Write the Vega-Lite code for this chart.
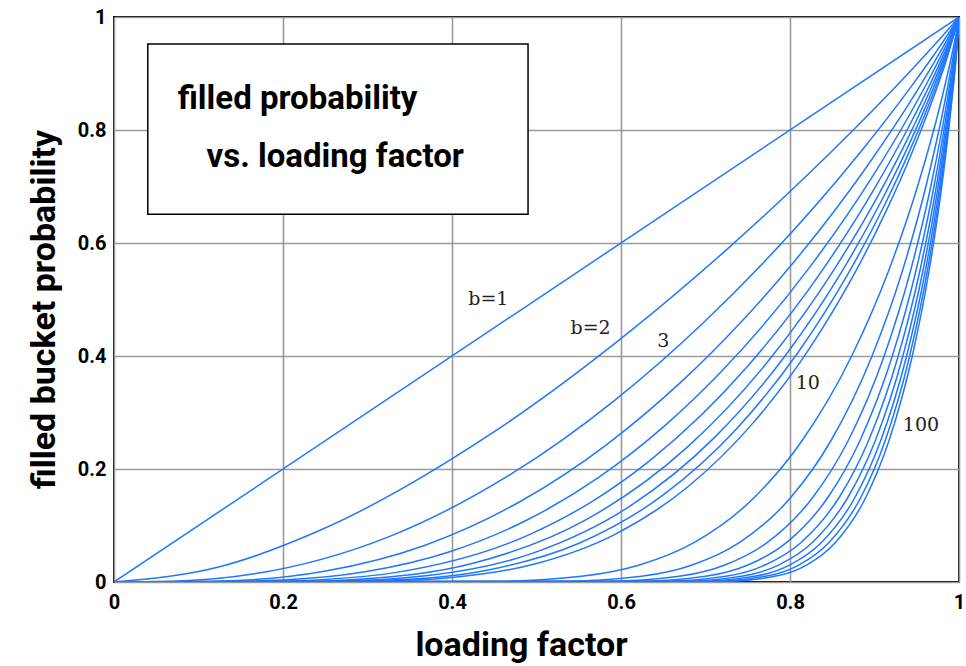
{
  "$schema": "https://vega.github.io/schema/vega-lite/v6.json",
  "width": 845,
  "height": 565,
  "autosize": {"type": "none"},
  "padding": {"left": 114, "top": 17, "right": 7, "bottom": 84},
  "background": "white",
  "config": {
    "view": {"stroke": "black", "strokeWidth": 2},
    "axis": {
      "grid": true,
      "gridColor": "#9a9a9a",
      "gridWidth": 1.6,
      "ticks": false,
      "domain": false,
      "labelFlush": false,
      "labelFont": "Roboto, sans-serif",
      "labelFontWeight": "bold",
      "labelFontSize": 20,
      "labelColor": "black",
      "titleFont": "Roboto, sans-serif",
      "titleFontWeight": "bold",
      "titleFontSize": 34,
      "titleColor": "black"
    }
  },
  "datasets": {
    "curves": [
      {"b":1,"x":0,"y":0},{"b":1,"x":1,"y":1},
      {"b":2,"x":0,"y":0},{"b":2,"x":0.1238,"y":0.0265},{"b":2,"x":0.2418,"y":0.0902},{"b":2,"x":0.4482,"y":0.2642},{"b":2,"x":0.6095,"y":0.4422},{"b":2,"x":0.7293,"y":0.594},{"b":2,"x":0.8153,"y":0.7127},{"b":2,"x":0.8755,"y":0.8009},{"b":2,"x":0.9451,"y":0.9084},{"b":2,"x":0.9764,"y":0.9596},{"b":2,"x":0.9901,"y":0.9827},{"b":2,"x":1,"y":1},
      {"b":3,"x":0,"y":0},{"b":3,"x":0.0833,"y":0.0022},{"b":3,"x":0.166,"y":0.0144},{"b":3,"x":0.3256,"y":0.0803},{"b":3,"x":0.4701,"y":0.1912},{"b":3,"x":0.594,"y":0.3233},{"b":3,"x":0.6956,"y":0.4562},{"b":3,"x":0.776,"y":0.5768},{"b":3,"x":0.884,"y":0.7619},{"b":3,"x":0.9427,"y":0.8754},{"b":3,"x":0.9727,"y":0.938},{"b":3,"x":0.9874,"y":0.9704},{"b":3,"x":1,"y":1},
      {"b":4,"x":0,"y":0},{"b":4,"x":0.125,"y":0.0018},{"b":4,"x":0.2489,"y":0.019},{"b":4,"x":0.369,"y":0.0656},{"b":4,"x":0.4812,"y":0.1429},{"b":4,"x":0.5823,"y":0.2424},{"b":4,"x":0.6702,"y":0.3528},{"b":4,"x":0.7441,"y":0.4634},{"b":4,"x":0.8046,"y":0.5665},{"b":4,"x":0.8908,"y":0.735},{"b":4,"x":0.9418,"y":0.8488},{"b":4,"x":0.9701,"y":0.9182},{"b":4,"x":0.9851,"y":0.9576},{"b":4,"x":1,"y":1},
      {"b":5,"x":0,"y":0},{"b":5,"x":0.1,"y":0.0002},{"b":5,"x":0.1999,"y":0.0037},{"b":5,"x":0.2989,"y":0.0186},{"b":5,"x":0.3955,"y":0.0527},{"b":5,"x":0.4876,"y":0.1088},{"b":5,"x":0.5731,"y":0.1847},{"b":5,"x":0.6502,"y":0.2746},{"b":5,"x":0.7179,"y":0.3712},{"b":5,"x":0.8245,"y":0.5595},{"b":5,"x":0.8964,"y":0.7149},{"b":5,"x":0.9415,"y":0.827},{"b":5,"x":0.9682,"y":0.9004},{"b":5,"x":0.9832,"y":0.945},{"b":5,"x":0.9914,"y":0.9708},{"b":5,"x":1,"y":1},
      {"b":6,"x":0,"y":0},{"b":6,"x":0.1667,"y":0.0006},{"b":6,"x":0.2498,"y":0.0045},{"b":6,"x":0.3323,"y":0.0166},{"b":6,"x":0.4916,"y":0.0839},{"b":6,"x":0.5656,"y":0.1424},{"b":6,"x":0.6341,"y":0.2149},{"b":6,"x":0.7511,"y":0.384},{"b":6,"x":0.8394,"y":0.5543},{"b":6,"x":0.9011,"y":0.6993},{"b":6,"x":0.9416,"y":0.8088},{"b":6,"x":0.9668,"y":0.8843},{"b":6,"x":0.9817,"y":0.9329},{"b":6,"x":0.9949,"y":0.9797},{"b":6,"x":1,"y":1},
      {"b":7,"x":0,"y":0},{"b":7,"x":0.2143,"y":0.0009},{"b":7,"x":0.2855,"y":0.0045},{"b":7,"x":0.4261,"y":0.0335},{"b":7,"x":0.5593,"y":0.1107},{"b":7,"x":0.6778,"y":0.2378},{"b":7,"x":0.7757,"y":0.3937},{"b":7,"x":0.851,"y":0.5503},{"b":7,"x":0.9052,"y":0.6866},{"b":7,"x":0.942,"y":0.7932},{"b":7,"x":0.9657,"y":0.8699},{"b":7,"x":0.9891,"y":0.9542},{"b":7,"x":1,"y":1},
      {"b":8,"x":0,"y":0},{"b":8,"x":0.25,"y":0.0011},{"b":8,"x":0.3743,"y":0.0119},{"b":8,"x":0.4958,"y":0.0511},{"b":8,"x":0.6097,"y":0.1334},{"b":8,"x":0.7108,"y":0.256},{"b":8,"x":0.7948,"y":0.4013},{"b":8,"x":0.8604,"y":0.547},{"b":8,"x":0.9087,"y":0.6761},{"b":8,"x":0.9425,"y":0.7798},{"b":8,"x":0.9649,"y":0.8568},{"b":8,"x":0.9792,"y":0.9105},{"b":8,"x":0.9963,"y":0.982},{"b":8,"x":1,"y":1},
      {"b":9,"x":0,"y":0},{"b":9,"x":0.2222,"y":0.0002},{"b":9,"x":0.3332,"y":0.0038},{"b":9,"x":0.4431,"y":0.0214},{"b":9,"x":0.5496,"y":0.0681},{"b":9,"x":0.6488,"y":0.1528},{"b":9,"x":0.7366,"y":0.2709},{"b":9,"x":0.8101,"y":0.4075},{"b":9,"x":0.8683,"y":0.5444},{"b":9,"x":0.9119,"y":0.6672},{"b":9,"x":0.943,"y":0.768},{"b":9,"x":0.9643,"y":0.845},{"b":9,"x":0.9926,"y":0.9626},{"b":9,"x":1,"y":1},
      {"b":10,"x":0,"y":0},{"b":10,"x":0.3,"y":0.0011},{"b":10,"x":0.3996,"y":0.0081},{"b":10,"x":0.4978,"y":0.0318},{"b":10,"x":0.5923,"y":0.0839},{"b":10,"x":0.6799,"y":0.1695},{"b":10,"x":0.7574,"y":0.2834},{"b":10,"x":0.8227,"y":0.4126},{"b":10,"x":0.8749,"y":0.5421},{"b":10,"x":0.9147,"y":0.6595},{"b":10,"x":0.9437,"y":0.7576},{"b":10,"x":0.9863,"y":0.9301},{"b":10,"x":1,"y":1},
      {"b":20,"x":0,"y":0},{"b":20,"x":0.4462,"y":0.001},{"b":20,"x":0.5531,"y":0.01},{"b":20,"x":0.6217,"y":0.03},{"b":20,"x":0.6868,"y":0.07},{"b":20,"x":0.758,"y":0.15},{"b":20,"x":0.8142,"y":0.25},{"b":20,"x":0.873,"y":0.4},{"b":20,"x":0.9165,"y":0.55},{"b":20,"x":0.9509,"y":0.7},{"b":20,"x":0.9787,"y":0.85},{"b":20,"x":0.9939,"y":0.95},{"b":20,"x":0.999,"y":0.99},{"b":20,"x":1,"y":1},
      {"b":30,"x":0,"y":0},{"b":30,"x":0.528,"y":0.001},{"b":30,"x":0.6241,"y":0.01},{"b":30,"x":0.6842,"y":0.03},{"b":30,"x":0.7404,"y":0.07},{"b":30,"x":0.8011,"y":0.15},{"b":30,"x":0.8484,"y":0.25},{"b":30,"x":0.8971,"y":0.4},{"b":30,"x":0.9329,"y":0.55},{"b":30,"x":0.9608,"y":0.7},{"b":30,"x":0.9832,"y":0.85},{"b":30,"x":0.9952,"y":0.95},{"b":30,"x":1,"y":1},
      {"b":40,"x":0,"y":0},{"b":40,"x":0.5808,"y":0.001},{"b":40,"x":0.6687,"y":0.01},{"b":40,"x":0.723,"y":0.03},{"b":40,"x":0.7733,"y":0.07},{"b":40,"x":0.8271,"y":0.15},{"b":40,"x":0.8688,"y":0.25},{"b":40,"x":0.9114,"y":0.4},{"b":40,"x":0.9425,"y":0.55},{"b":40,"x":0.9666,"y":0.7},{"b":40,"x":0.9857,"y":0.85},{"b":40,"x":0.996,"y":0.95},{"b":40,"x":1,"y":1},
      {"b":50,"x":0,"y":0},{"b":50,"x":0.6187,"y":0.001},{"b":50,"x":0.7002,"y":0.01},{"b":50,"x":0.7501,"y":0.03},{"b":50,"x":0.7961,"y":0.07},{"b":50,"x":0.845,"y":0.15},{"b":50,"x":0.8827,"y":0.25},{"b":50,"x":0.9211,"y":0.4},{"b":50,"x":0.9489,"y":0.55},{"b":50,"x":0.9704,"y":0.7},{"b":50,"x":0.9874,"y":0.85},{"b":50,"x":0.9965,"y":0.95},{"b":50,"x":1,"y":1},
      {"b":60,"x":0,"y":0},{"b":60,"x":0.6476,"y":0.001},{"b":60,"x":0.724,"y":0.01},{"b":60,"x":0.7704,"y":0.03},{"b":60,"x":0.8131,"y":0.07},{"b":60,"x":0.8583,"y":0.15},{"b":60,"x":0.8929,"y":0.25},{"b":60,"x":0.9281,"y":0.4},{"b":60,"x":0.9536,"y":0.55},{"b":60,"x":0.9732,"y":0.7},{"b":60,"x":0.9886,"y":0.85},{"b":60,"x":0.9968,"y":0.95},{"b":60,"x":1,"y":1},
      {"b":70,"x":0,"y":0},{"b":70,"x":0.6706,"y":0.001},{"b":70,"x":0.7427,"y":0.01},{"b":70,"x":0.7864,"y":0.03},{"b":70,"x":0.8264,"y":0.07},{"b":70,"x":0.8686,"y":0.15},{"b":70,"x":0.9009,"y":0.25},{"b":70,"x":0.9336,"y":0.4},{"b":70,"x":0.9572,"y":0.55},{"b":70,"x":0.9753,"y":0.7},{"b":70,"x":0.9896,"y":0.85},{"b":70,"x":0.9971,"y":0.95},{"b":70,"x":1,"y":1},
      {"b":80,"x":0,"y":0},{"b":80,"x":0.6895,"y":0.001},{"b":80,"x":0.7581,"y":0.01},{"b":80,"x":0.7994,"y":0.03},{"b":80,"x":0.8372,"y":0.07},{"b":80,"x":0.877,"y":0.15},{"b":80,"x":0.9073,"y":0.25},{"b":80,"x":0.938,"y":0.4},{"b":80,"x":0.9601,"y":0.55},{"b":80,"x":0.977,"y":0.7},{"b":80,"x":0.9903,"y":0.85},{"b":80,"x":0.9974,"y":0.95},{"b":80,"x":1,"y":1},
      {"b":90,"x":0,"y":0},{"b":90,"x":0.7054,"y":0.001},{"b":90,"x":0.7709,"y":0.01},{"b":90,"x":0.8103,"y":0.03},{"b":90,"x":0.8462,"y":0.07},{"b":90,"x":0.8839,"y":0.15},{"b":90,"x":0.9126,"y":0.25},{"b":90,"x":0.9416,"y":0.4},{"b":90,"x":0.9625,"y":0.55},{"b":90,"x":0.9784,"y":0.7},{"b":90,"x":0.9909,"y":0.85},{"b":90,"x":0.9976,"y":0.95},{"b":90,"x":1,"y":1},
      {"b":100,"x":0,"y":0},{"b":100,"x":0.719,"y":0.001},{"b":100,"x":0.7819,"y":0.01},{"b":100,"x":0.8195,"y":0.03},{"b":100,"x":0.8538,"y":0.07},{"b":100,"x":0.8898,"y":0.15},{"b":100,"x":0.9171,"y":0.25},{"b":100,"x":0.9447,"y":0.4},{"b":100,"x":0.9645,"y":0.55},{"b":100,"x":0.9796,"y":0.7},{"b":100,"x":0.9914,"y":0.85},{"b":100,"x":0.9978,"y":0.95},{"b":100,"x":1,"y":1}
    ],
    "labels": [
      {"text":"b=1","x":0.443,"y":0.501},
      {"text":"b=2","x":0.564,"y":0.45},
      {"text":"3","x":0.65,"y":0.427},
      {"text":"10","x":0.821,"y":0.352},
      {"text":"100","x":0.955,"y":0.278}
    ],
    "box": [{"x1":0.04,"x2":0.49,"y1":0.651,"y2":0.952}],
    "boxtext": [
      {"text":"filled probability","x":0.0754,"y":0.854},
      {"text":"vs. loading factor","x":0.1095,"y":0.752}
    ]
  },
  "layer": [
    {
      "data": {"name": "box"},
      "mark": {"type": "rect", "fill": "white", "stroke": "black", "strokeWidth": 1.5},
      "encoding": {
        "x": {"field": "x1", "type": "quantitative", "scale": {"domain": [0, 1], "nice": false}, "axis": {"values": [0, 0.2, 0.4, 0.6, 0.8, 1], "format": "~g", "title": "loading factor", "labelPadding": 10, "titlePadding": 16, "titleX": 407}},
        "x2": {"field": "x2"},
        "y": {"field": "y1", "type": "quantitative", "scale": {"domain": [0, 1], "nice": false}, "axis": {"values": [0, 0.2, 0.4, 0.6, 0.8, 1], "format": "~g", "title": "filled bucket probability", "labelPadding": 8, "titlePadding": 16, "titleY": 292}},
        "y2": {"field": "y2"}
      }
    },
    {
      "data": {"name": "curves"},
      "mark": {"type": "line", "interpolate": "monotone", "color": "#1f77ff", "strokeWidth": 1.5, "clip": true},
      "encoding": {
        "x": {"field": "x", "type": "quantitative"},
        "y": {"field": "y", "type": "quantitative"},
        "detail": {"field": "b", "type": "nominal"}
      }
    },
    {
      "data": {"name": "labels"},
      "mark": {"type": "text", "font": "DejaVu Serif, Liberation Serif, serif", "fontSize": 19, "color": "#222222", "align": "center", "baseline": "middle"},
      "encoding": {
        "x": {"field": "x", "type": "quantitative"},
        "y": {"field": "y", "type": "quantitative"},
        "text": {"field": "text"}
      }
    },
    {
      "data": {"name": "boxtext"},
      "mark": {"type": "text", "font": "Roboto, sans-serif", "fontWeight": "bold", "fontSize": 33, "color": "black", "align": "left", "baseline": "middle"},
      "encoding": {
        "x": {"field": "x", "type": "quantitative"},
        "y": {"field": "y", "type": "quantitative"},
        "text": {"field": "text"}
      }
    }
  ]
}
